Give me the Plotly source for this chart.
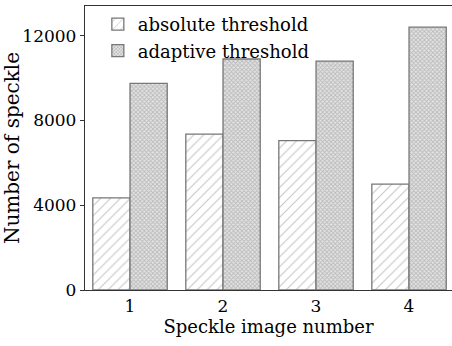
import plotly.graph_objects as go

categories = [1, 2, 3, 4]
tick_labels = ["1", "2", "3", "4"]
absolute_vals = [4350, 7350, 7050, 5000]
adaptive_vals = [9750, 10900, 10800, 12400]
y_ticks = [0, 4000, 8000, 12000]
y_tick_labels = ["0", "4000", "8000", "12000"]

FONT = "DejaVu Serif, serif"

fig = go.Figure()
fig.add_trace(go.Bar(
    x=categories, y=absolute_vals, name="absolute threshold",
    marker=dict(color="white", line=dict(color="#777777", width=1.3),
                pattern=dict(shape="/", fgcolor="#8c8c8c", bgcolor="white", size=7, solidity=0.15)),
))
fig.add_trace(go.Bar(
    x=categories, y=adaptive_vals, name="adaptive threshold",
    marker=dict(color="#d0d0d0", line=dict(color="#777777", width=1.3),
                pattern=dict(shape="x", fgcolor="#8e8e8e", bgcolor="#e4e4e4", size=3, solidity=0.5)),
))

fig.update_layout(
    width=452, height=346,
    margin=dict(l=85, r=0, t=6, b=56),
    paper_bgcolor="white", plot_bgcolor="white",
    barmode="group", bargap=0.2, bargroupgap=0,
    font=dict(family=FONT, color="black", size=17),
    showlegend=True,
    legend=dict(x=0.035, y=1.0, xanchor="left", yanchor="top",
                bgcolor="rgba(0,0,0,0)", font=dict(family=FONT, size=18), tracegroupgap=0),
    xaxis=dict(range=[0.516, 4.462], tickvals=categories, ticktext=tick_labels,
               showline=True, linecolor="#333", linewidth=1.3, mirror=True,
               ticks="", showgrid=False, zeroline=False,
               tickfont=dict(family=FONT, size=17),
               title=dict(text="Speckle image number", font=dict(family=FONT, size=18), standoff=2)),
    yaxis=dict(range=[0, 13400], tickvals=y_ticks, ticktext=y_tick_labels,
               showline=True, linecolor="#333", linewidth=1.3, mirror=False,
               ticks="outside", ticklen=4, tickcolor="#333",
               showgrid=False, zeroline=False,
               tickfont=dict(family=FONT, size=17),
               title=dict(text="Number of speckle", font=dict(family=FONT, size=20), standoff=6)),
)

fig.write_html("out.html")
